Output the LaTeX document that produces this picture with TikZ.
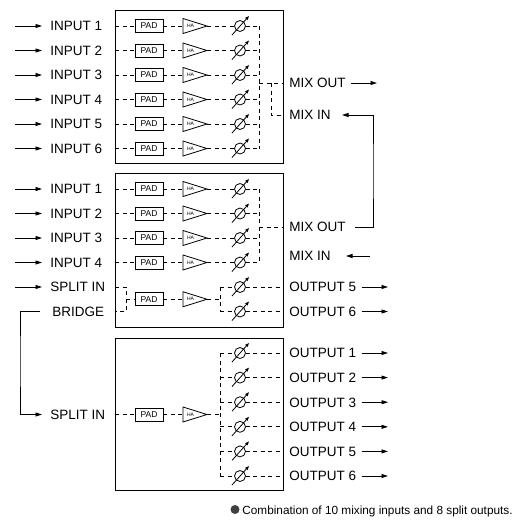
\documentclass[tikz,border=0pt]{standalone}
\usepackage{fontspec}
\setmainfont{Liberation Sans}
\usetikzlibrary{arrows.meta,calc}
\newcommand\chanstrip[2]{%
  \node[padbox] (#1-p) at (149,#2) {PAD};
  \coordinate (#1-hi) at (183,#2);
  \coordinate (#1-ho) at (207,#2);
  \draw[fill=white] (183,#2-7.5) -- (207,#2) -- (183,#2+7.5) -- cycle;
  \node[hatxt] at (190.5,#2) {HA};
  \draw[dsh] (#1-p.east) -- (#1-hi);
}
\newcommand\knobat[3]{%
  \node[knob] (#1) at (#2,#3) {};
  \draw[knobarr] ($(#1)+(-8,9)$) -- ($(#1)+(9,-10)$);
}
\begin{document}
\begin{tikzpicture}[x=1pt,y=-1pt,line width=0.8pt,
  lbl/.style={font=\fontsize{13.5}{15}\selectfont,inner sep=0pt,anchor=west,text height=9.6pt,text depth=0pt},
  dsh/.style={dash pattern=on 4pt off 3.5pt},
  padbox/.style={draw,fill=white,minimum width=28pt,minimum height=13pt,inner sep=0pt,font=\fontsize{8.5}{9}\selectfont},
  hatxt/.style={inner sep=0pt,font=\fontsize{5}{5}\selectfont},
  knob/.style={draw,circle,minimum size=11pt,inner sep=0pt},
  knobarr/.style={-{Triangle[length=4pt,width=3pt]}},
  arr/.style={-{Triangle[length=6.5pt,width=4pt]}},
  box/.style={draw,line width=0.9pt}]
\useasboundingbox (0,0) rectangle (530,523);
% ---------- boxes
\draw[box] (115,10) rectangle (283,163);
\draw[box] (115,173) rectangle (283,327);
\draw[box] (115,338) rectangle (283,490);
% ---------- box 1
\foreach \i/\y in {1/26,2/50.5,3/75,4/99.5,5/124,6/148.5}{
  \node[lbl] (ai\i) at (50,\y) {INPUT \i};
  \coordinate (as\i) at (15,\y);
  \draw[arr,shorten >=8pt] (as\i) -- (ai\i.west);
  \chanstrip{a\i}{\y}
  \knobat{ak\i}{240}{\y}
  \draw[dsh] (115,\y) -- (a\i-p.west);
  \draw[dsh] (a\i-ho) -- (ak\i.west);
  \draw[dsh] (ak\i.east) -- (259,\y);
}
\draw[dsh] (259,26) -- (259,148.5);
\draw[dsh] (259,83) -- (283,83);
\draw[dsh] (271,83) -- (271,115) -- (283,115);
\node[lbl] (amo) at (289,83) {MIX OUT};
\node[lbl] (ami) at (289,115) {MIX IN};
\coordinate (amoe) at (377,83);
\draw[arr,shorten <=5pt] (amo.east) -- (amoe);
% ---------- box 2
\foreach \i/\y in {1/189,2/213.5,3/238,4/262.5}{
  \node[lbl] (bi\i) at (50,\y) {INPUT \i};
  \coordinate (bs\i) at (15,\y);
  \draw[arr,shorten >=8pt] (bs\i) -- (bi\i.west);
  \chanstrip{b\i}{\y}
  \knobat{bk\i}{240}{\y}
  \draw[dsh] (115,\y) -- (b\i-p.west);
  \draw[dsh] (b\i-ho) -- (bk\i.west);
  \draw[dsh] (bk\i.east) -- (259,\y);
}
\draw[dsh] (259,189) -- (259,262.5);
\draw[dsh] (259,227) -- (283,227);
\node[lbl] (bmo) at (289,227) {MIX OUT};
\node[lbl] (bmi) at (289,256) {MIX IN};
\coordinate (bmis) at (370,256);
\draw[arr,shorten >=15pt] (bmis) -- (bmi.east);
\draw[arr,shorten <=9pt,shorten >=11pt] (bmo.east) -| (373,171) |- (ami.east);
% split section box 2
\node[lbl] (bsi) at (50,287) {SPLIT IN};
\coordinate (bss) at (15,287);
\draw[arr,shorten >=8pt] (bss) -- (bsi.west);
\node[lbl] (bbr) at (52,311.5) {BRIDGE};
\chanstrip{bs}{299.25}
\draw[dsh] (115,287) -- (126,287) -- (126,311.5) -- (115,311.5);
\draw[dsh] (126,299.25) -- (bs-p.west);
\draw[dsh] (bs-ho) -- (220,299.25);
\draw[dsh] (220,287) -- (220,311.5);
\foreach \n/\y in {5/287,6/311.5}{
  \knobat{bok\n}{240}{\y}
  \draw[dsh] (220,\y) -- (bok\n.west);
  \draw[dsh] (bok\n.east) -- (283,\y);
  \node[lbl] (bo\n) at (289,\y) {OUTPUT \n};
  \coordinate (boe\n) at (388,\y);
  \draw[arr,shorten <=5pt] (bo\n.east) -- (boe\n);
}
% ---------- box 3
\node[lbl] (csi) at (50,414.5) {SPLIT IN};
\draw[arr,shorten <=12pt,shorten >=8pt] (bbr.west) -| (20,360) |- (csi.west);
\chanstrip{c}{414.5}
\draw[dsh] (115,414.5) -- (c-p.west);
\draw[dsh] (c-ho) -- (220,414.5);
\draw[dsh] (220,353) -- (220,476);
\foreach \n/\y in {1/353,2/377.6,3/402.2,4/426.8,5/451.4,6/476}{
  \knobat{ck\n}{240}{\y}
  \draw[dsh] (220,\y) -- (ck\n.west);
  \draw[dsh] (ck\n.east) -- (283,\y);
  \node[lbl] (co\n) at (289,\y) {OUTPUT \n};
  \coordinate (coe\n) at (388,\y);
  \draw[arr,shorten <=5pt] (co\n.east) -- (coe\n);
}
% ---------- caption
\fill[black!75] (235,509.5) circle (4.5pt);
\node[inner sep=0pt,anchor=base west,font=\fontsize{11.8}{14}\selectfont] (cap) at (242,514) {Combination of 10 mixing inputs and 8 split outputs.};
\end{tikzpicture}
\end{document}
